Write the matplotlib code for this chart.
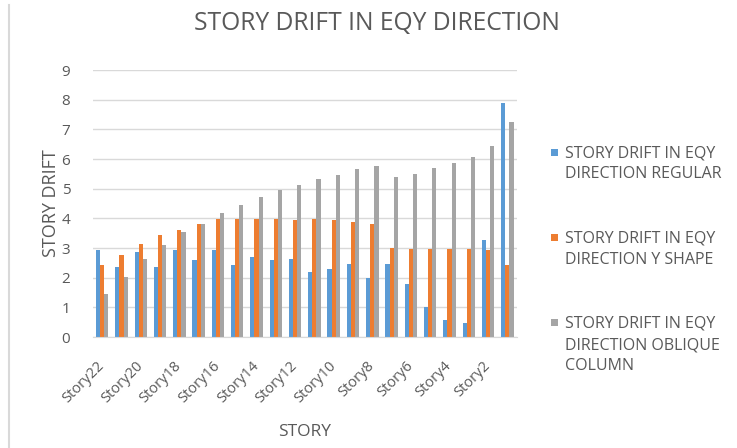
import matplotlib
matplotlib.use("Agg")
import matplotlib.pyplot as plt
import numpy as np
from matplotlib.patches import Rectangle
from matplotlib.legend_handler import HandlerBase
from matplotlib.lines import Line2D

plt.rcParams['font.family'] = ['Open Sans', 'DejaVu Sans']

stories = [f"Story{i}" for i in range(22, 0, -1)]
regular = [2.92, 2.36, 2.87, 2.36, 2.92, 2.59, 2.92, 2.42, 2.70, 2.59, 2.62,
           2.19, 2.28, 2.45, 2.00, 2.45, 1.78, 1.01, 0.56, 0.47, 3.26, 7.90]
y_shape = [2.42, 2.76, 3.15, 3.43, 3.60, 3.82, 3.99, 3.99, 3.99, 3.99, 3.96,
           3.99, 3.96, 3.88, 3.80, 3.01, 2.98, 2.98, 2.98, 2.95, 2.92, 2.42]
oblique = [1.46, 2.02, 2.64, 3.09, 3.54, 3.82, 4.18, 4.44, 4.72, 4.95, 5.12,
           5.31, 5.46, 5.65, 5.76, 5.38, 5.51, 5.68, 5.85, 6.07, 6.43, 7.26]
series_labels = ["STORY DRIFT IN EQY\nDIRECTION REGULAR",
                 "STORY DRIFT IN EQY\nDIRECTION Y SHAPE",
                 "STORY DRIFT IN EQY\nDIRECTION OBLIQUE\nCOLUMN"]
colors = ["#5B9BD5", "#ED7D31", "#A5A5A5"]
txt = "#595959"

LEG_FS = 11.5
LEG_LS = 1.45


class TopSquare(HandlerBase):
    """Legend square aligned with the first line of a multi-line label."""
    def create_artists(self, legend, orig_handle, xdescent, ydescent,
                       width, height, fontsize, trans):
        n = getattr(orig_handle, "_nlines", 1)
        s = width
        pitch = LEG_LS * fontsize * 1.0
        yc = height / 2 - ydescent + (n - 1) / 2 * pitch
        r = Rectangle((-xdescent, yc - s / 2), s, s,
                      facecolor=orig_handle.get_facecolor(), edgecolor='none',
                      transform=trans)
        return [r]


fig = plt.figure(figsize=(7.37, 4.48), dpi=100)
ax = fig.add_axes([92.5/737, 1 - 337/448, (517 - 92.5)/737, (337 - 70)/448])

x = np.arange(len(stories))
w = 0.215
for k, (vals, c) in enumerate(zip([regular, y_shape, oblique], colors)):
    ax.bar(x + (k - 1) * w, vals, width=w, color=c, zorder=2)

ax.set_xlim(-0.5, len(stories) - 0.5)
ax.set_ylim(0, 9)
ax.set_yticks(range(0, 10))
ax.grid(axis='y', color='#D9D9D9', linewidth=1, zorder=0)
for s in ['top', 'right', 'left']:
    ax.spines[s].set_visible(False)
ax.spines['bottom'].set_color('#D9D9D9')
ax.tick_params(axis='both', length=0, colors=txt)
ax.tick_params(axis='y', pad=16, labelsize=11)
ax.set_xticks(x[::2])
ax.set_xticklabels(stories[::2], rotation=45, ha='right', va='center',
                   rotation_mode='anchor', fontsize=10.5, color=txt)
ax.tick_params(axis='x', pad=19)

ax.set_ylabel("STORY DRIFT", color=txt, fontsize=13, labelpad=1)
ax.set_xlabel("STORY", color=txt, fontsize=12.5, labelpad=13)
fig.text(377/737, 1 - 23/448, "STORY DRIFT IN EQY DIRECTION", ha='center', va='center',
         fontsize=17.7, color=txt)

handles = []
for lab, c in zip(series_labels, colors):
    r = Rectangle((0, 0), 1, 1, facecolor=c, label=lab)
    r._nlines = lab.count("\n") + 1
    handles.append(r)

leg = ax.legend(handles=handles, loc='upper left', bbox_to_anchor=(551/737, 1 - 145/448),
                bbox_transform=fig.transFigure, frameon=False, fontsize=LEG_FS,
                labelcolor=txt, handlelength=0.45, handleheight=0.7,
                handletextpad=0.4, labelspacing=3.0, borderpad=0, borderaxespad=0,
                handler_map={Rectangle: TopSquare()})
for t in leg.get_texts():
    t.set_linespacing(LEG_LS)

fig.add_artist(Line2D([9/737, 9/737], [0, 1 - 5/448], color='#D9D9D9', linewidth=1.5,
                      transform=fig.transFigure))

fig.savefig("out.png", dpi=100)
